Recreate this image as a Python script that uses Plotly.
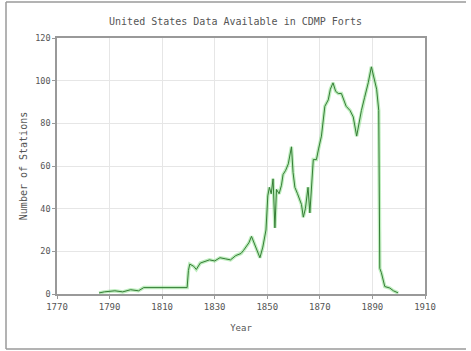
import plotly.graph_objects as go

# Station counts by year
years = [1786.0, 1788.0, 1792.0, 1795.0, 1798.0, 1801.0, 1803.0, 1810.0, 1815.0, 1819.5,
         1820.0, 1820.5, 1822.0, 1823.0, 1824.5, 1826.0, 1828.0, 1830.0, 1832.0, 1834.0,
         1836.0, 1838.0, 1840.0, 1841.0, 1843.0, 1844.0, 1845.0, 1846.5, 1847.2, 1848.3,
         1849.5, 1850.2, 1850.8, 1851.5, 1852.2, 1852.9, 1853.5, 1854.5, 1855.4, 1856.0,
         1857.0, 1858.0, 1859.2, 1859.8, 1860.5, 1861.5, 1863.0, 1863.7, 1864.5, 1865.5,
         1866.2, 1867.5, 1868.7, 1869.5, 1870.6, 1871.9, 1873.2, 1874.0, 1875.0, 1876.0,
         1877.0, 1878.2, 1879.0, 1880.0, 1881.5, 1882.7, 1884.0, 1884.6, 1885.8, 1887.0,
         1888.4, 1889.6, 1890.3, 1891.0, 1891.6, 1892.4, 1892.8, 1893.4, 1894.2, 1894.7,
         1896.6, 1898.0, 1899.8]
stations = [0.5, 1, 1.5, 1, 2, 1.5, 3, 3, 3, 3,
            11, 14, 13, 11.5, 14.5, 15, 16, 15.5, 17, 16.5,
            16, 18, 19, 20.5, 24, 27, 24, 19, 17, 22,
            30, 46, 50, 47, 54, 31, 49, 47, 51, 56,
            58, 61, 69, 57, 50, 47, 42, 36, 40, 50,
            38, 63, 63, 68, 74, 88, 91, 96, 99, 95,
            94, 94, 91, 88, 86, 83, 74, 78, 86, 92,
            99, 106.5, 103, 100, 96, 86, 12, 10, 5, 3.5,
            2.8, 1.5, 0.5]

x_ticks = [1770, 1790, 1810, 1830, 1850, 1870, 1890, 1910]
y_ticks = [0, 20, 40, 60, 80, 100, 120]

mono = "DejaVu Sans Mono"
text_col = "#555"

fig = go.Figure()
# soft green halo under the series line
fig.add_trace(go.Scatter(x=years, y=stations, mode="lines",
                         line=dict(color="rgba(110,215,110,0.45)", width=3.5),
                         hoverinfo="skip", showlegend=False))
fig.add_trace(go.Scatter(x=years, y=stations, mode="lines",
                         line=dict(color="#357d35", width=1),
                         showlegend=False))

axis_common = dict(showline=True, linecolor="#999999", linewidth=1.5, mirror=True,
                   showgrid=True, gridcolor="#e6e6e6", gridwidth=1, zeroline=False,
                   ticks="outside", ticklen=3, tickcolor="#999999")

fig.update_xaxes(range=[1770, 1910], tickvals=x_ticks, **axis_common,
                 tickfont=dict(family=mono, size=9, color=text_col),
                 title=dict(text="Year", font=dict(family=mono, size=9, color=text_col),
                            standoff=14))
fig.update_yaxes(range=[0, 120], tickvals=y_ticks, **axis_common,
                 tickfont=dict(family=mono, size=8.5, color=text_col),
                 title=dict(text="Number of Stations",
                            font=dict(family=mono, size=10, color=text_col), standoff=6))

# outer frame lines around the figure
px0, pw, py0, ph = 57, 368, 294, 256
def px(v):
    return (v - px0) / pw
def py(v):
    return (py0 - v) / ph

frame = dict(type="line", xref="paper", yref="paper", line=dict(color="#9a9a9a", width=1.5))
fig.add_shape(x0=px(6), x1=px(6), y0=py(2), y1=py(349), **frame)
fig.add_shape(x0=px(6), x1=px(466), y0=py(2), y1=py(2), **frame)
fig.add_shape(x0=px(6), x1=px(466), y0=py(349), y1=py(349), **frame)

fig.update_layout(
    width=471, height=351,
    margin=dict(l=57, r=46, t=38, b=57),
    paper_bgcolor="white", plot_bgcolor="white",
    title=dict(text="United States Data Available in CDMP Forts",
               font=dict(family=mono, size=10, color=text_col),
               x=0.5, xanchor="center", y=1 - 21 / 351, yanchor="middle"),
)

fig.write_html("out.html")
